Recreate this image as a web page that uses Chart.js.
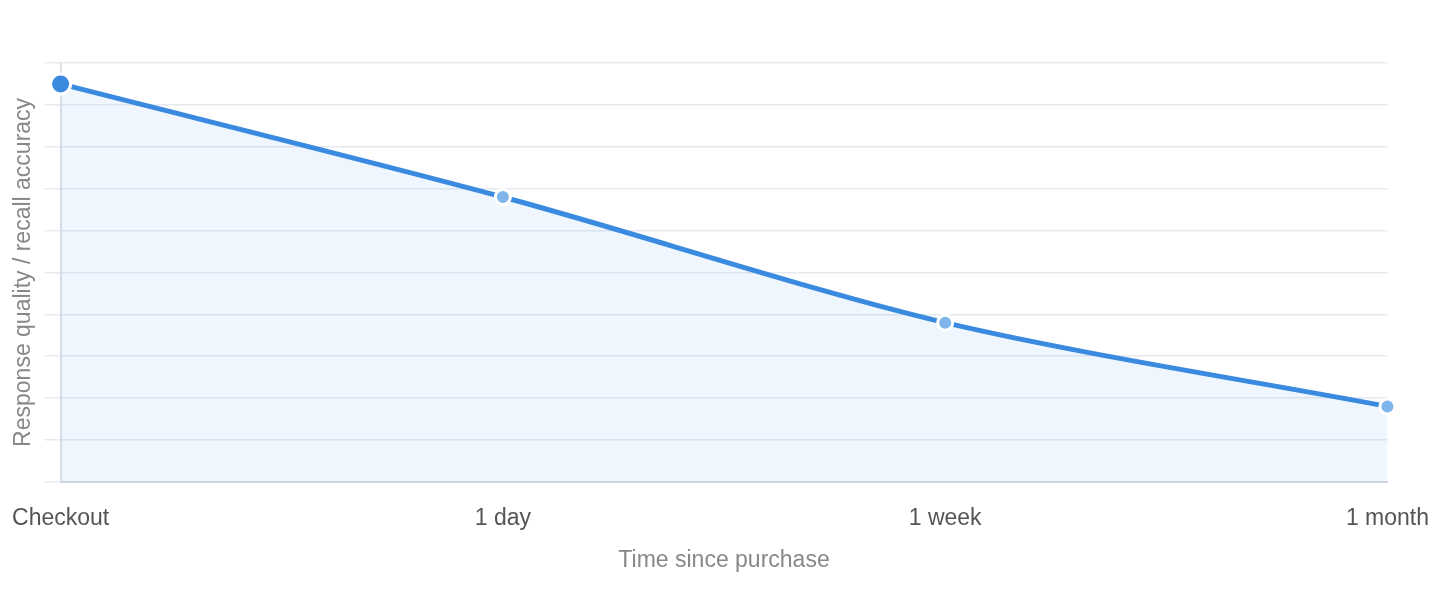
<!DOCTYPE html>
<html><head><meta charset="utf-8">
<script src="https://cdn.jsdelivr.net/npm/chart.js@4"></script>
<style>html,body{margin:0;padding:0;background:#fff}#wrap{width:1436px;height:600px}</style>
</head><body><div id="wrap"><canvas id="c"></canvas></div>
<script>
const categories = ["Checkout", "1 day", "1 week", "1 month"];
const qualityValues = [95, 68, 38, 18];
const yTitle = "Response quality / recall accuracy";
const xTitle = "Time since purchase";

const FONT = "'Helvetica Neue', Helvetica, 'Liberation Sans', Arial, sans-serif";
new Chart(document.getElementById('c'), {
  type: 'line',
  data: {
    labels: categories,
    datasets: [{
      data: qualityValues,
      borderColor: '#3a8be0',
      borderWidth: 5,
      backgroundColor: 'rgba(58,139,224,0.08)',
      fill: 'origin',
      tension: 0.3,
      pointRadius: [10, 7.5, 7.5, 7.5],
      pointBackgroundColor: ['#3a8be0', '#80b5ec', '#80b5ec', '#80b5ec'],
      pointBorderColor: '#ffffff',
      pointBorderWidth: 3,
      clip: false
    }]
  },
  options: {
    responsive: true,
    maintainAspectRatio: false,
    animation: false,
    layout: { padding: { top: 63, right: 6, left: 5, bottom: 22 } },
    plugins: { legend: { display: false }, tooltip: { enabled: false } },
    scales: {
      x: {
        offset: false,
        grid: { display: false, drawTicks: true, tickLength: 16 },
        border: { display: true, color: '#cfd6e0', width: 2 },
        ticks: { color: '#555555', font: { family: FONT, size: 23 }, padding: 7, maxRotation: 0 },
        title: { display: true, text: xTitle, color: '#888888', font: { family: FONT, size: 23 }, padding: { top: 7, bottom: 4 } }
      },
      y: {
        min: 0, max: 100,
        grid: { color: '#e6eaf0', lineWidth: 1.5, tickLength: 16, drawTicks: true },
        border: { display: true, color: '#dde2e9', width: 2 },
        ticks: { display: false, stepSize: 10 },
        title: { display: true, text: yTitle, color: '#888888', font: { family: FONT, size: 23 }, padding: { top: 5, bottom: 7 } }
      }
    }
  }
});
</script></body></html>
